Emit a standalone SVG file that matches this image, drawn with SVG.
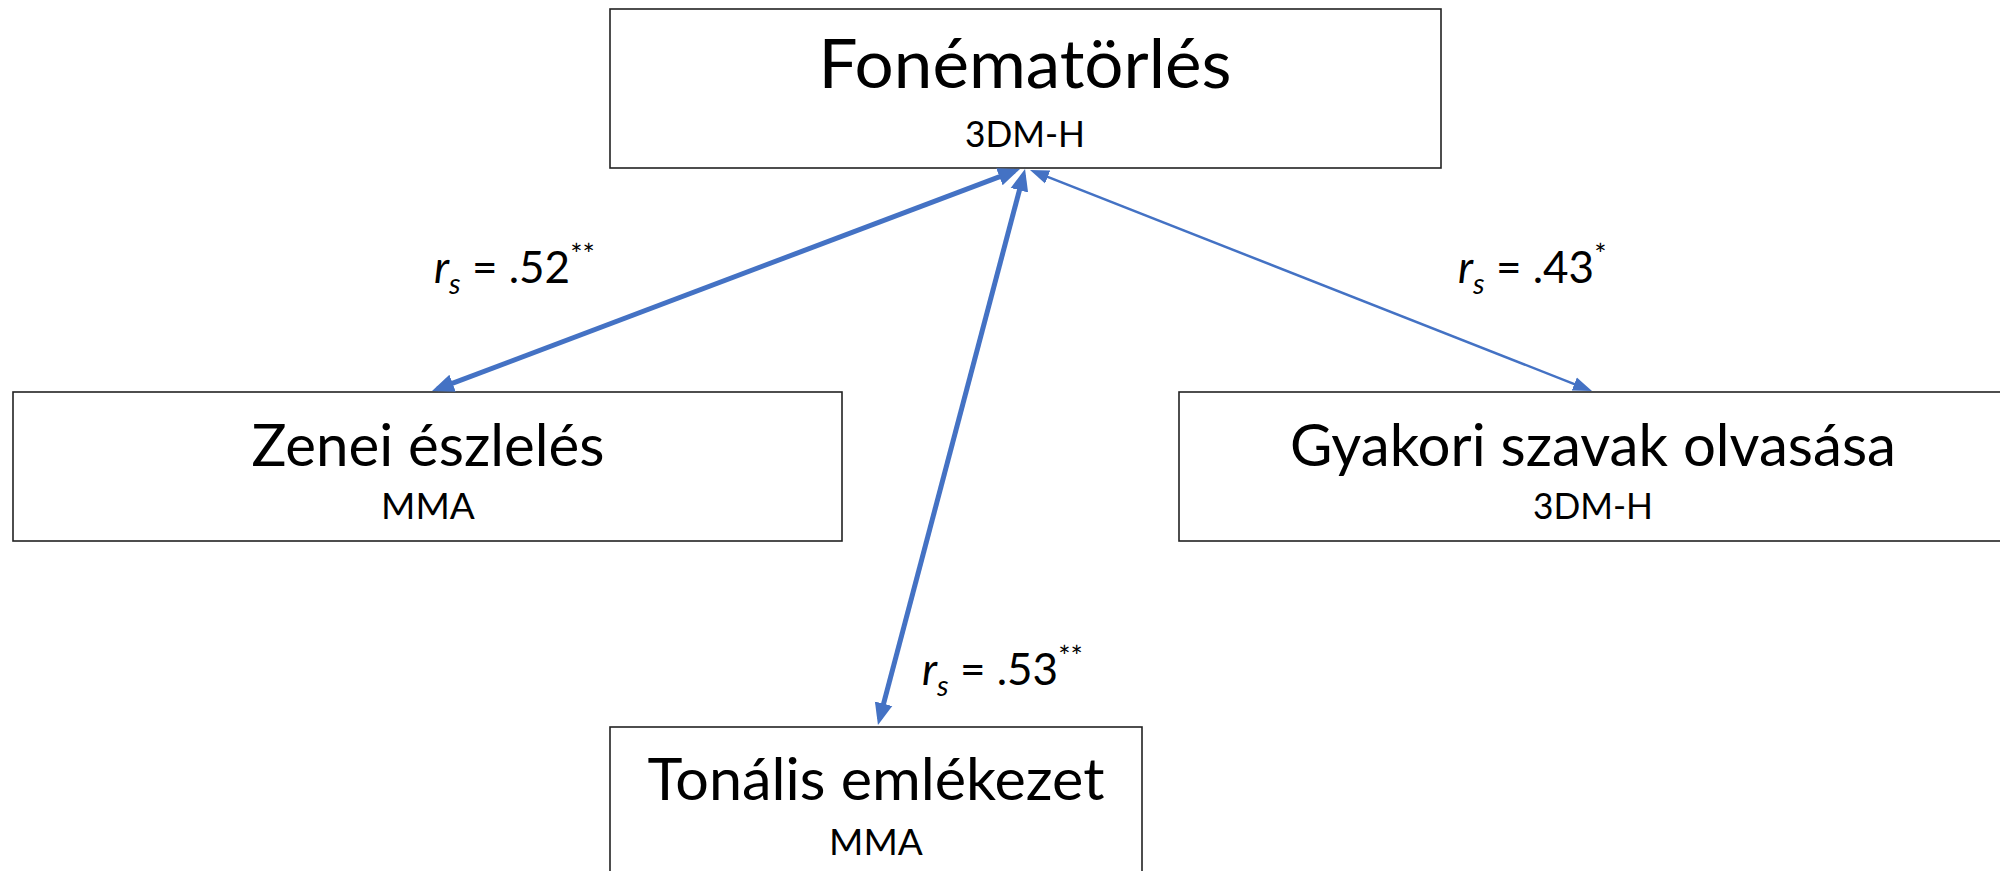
<svg xmlns="http://www.w3.org/2000/svg" width="2000" height="871" viewBox="0 0 2000 871">
  <style>
    .box { fill: #ffffff; stroke: #222222; stroke-width: 1.6; }
    .title { font-family: Lato, "Liberation Sans", sans-serif; fill: #000000; text-anchor: middle; }
    .sub { font-family: Lato, "Liberation Sans", sans-serif; fill: #000000; text-anchor: middle; font-size: 37px; }
    .lbl { font-family: Lato, "Liberation Sans", sans-serif; fill: #000000; font-size: 44px; }
    .it { font-style: italic; }
    .small { font-size: 29px; }
    .thick { stroke: #4472C4; stroke-width: 5; fill: none; }
    .thin { stroke: #4472C4; stroke-width: 2.5; fill: none; }
  </style>
  <defs>
    <marker id="headBig" markerUnits="userSpaceOnUse" markerWidth="24" markerHeight="20" viewBox="0 0 24 20" refX="16" refY="10" orient="auto-start-reverse">
      <path d="M0,1 L22,10 L0,19 z" fill="#4472C4"/>
    </marker>
    <marker id="headSmall" markerUnits="userSpaceOnUse" markerWidth="20" markerHeight="16" viewBox="0 0 20 16" refX="13" refY="8" orient="auto-start-reverse">
      <path d="M0,1 L19,8 L0,15 z" fill="#4472C4"/>
    </marker>
  </defs>

  <rect width="2000" height="871" fill="#ffffff"/>

  <g id="node-fonematorles">
    <rect class="box" x="610" y="9" width="831" height="159"/>
    <text class="title" x="1025" y="88" font-size="68" textLength="413" lengthAdjust="spacingAndGlyphs">Fonématörlés</text>
    <text class="sub" x="1025" y="147" textLength="120" lengthAdjust="spacingAndGlyphs">3DM-H</text>
  </g>

  <g id="node-zenei">
    <rect class="box" x="13" y="392" width="829" height="149"/>
    <text class="title" x="428" y="466" font-size="58" textLength="353" lengthAdjust="spacingAndGlyphs">Zenei észlelés</text>
    <text class="sub" x="428" y="519">MMA</text>
  </g>

  <g id="node-gyakori">
    <rect class="box" x="1179" y="392" width="830" height="149"/>
    <text class="title" x="1593" y="466" font-size="58" textLength="606" lengthAdjust="spacingAndGlyphs">Gyakori szavak olvasása</text>
    <text class="sub" x="1593" y="519" textLength="120" lengthAdjust="spacingAndGlyphs">3DM-H</text>
  </g>

  <g id="node-tonalis">
    <rect class="box" x="610" y="727" width="532" height="160"/>
    <text class="title" x="876" y="800" font-size="58" textLength="457" lengthAdjust="spacingAndGlyphs">Tonális emlékezet</text>
    <text class="sub" x="876" y="855">MMA</text>
  </g>

  <g id="connectors">
    <line class="thick" x1="1014.4" y1="171.1" x2="437.6" y2="388.9" marker-start="url(#headBig)" marker-end="url(#headBig)"/>
    <line class="thick" x1="1023.5" y1="174.8" x2="879.5" y2="719.2" marker-start="url(#headBig)" marker-end="url(#headBig)"/>
    <line class="thin" x1="1035.6" y1="172.2" x2="1586.4" y2="388.8" marker-start="url(#headSmall)" marker-end="url(#headSmall)"/>
  </g>

  <g id="labels">
    <text class="lbl" x="434" y="283"><tspan class="it">r</tspan><tspan class="it small" dy="11">s</tspan><tspan dy="-11"> = .52</tspan><tspan class="small" dy="-18">**</tspan></text>
    <text class="lbl" x="1458" y="283"><tspan class="it">r</tspan><tspan class="it small" dy="11">s</tspan><tspan dy="-11"> = .43</tspan><tspan class="small" dy="-18">*</tspan></text>
    <text class="lbl" x="922" y="685"><tspan class="it">r</tspan><tspan class="it small" dy="11">s</tspan><tspan dy="-11"> = .53</tspan><tspan class="small" dy="-18">**</tspan></text>
  </g>
</svg>
